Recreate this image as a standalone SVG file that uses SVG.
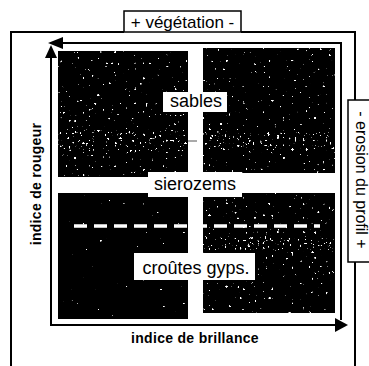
<svg xmlns="http://www.w3.org/2000/svg" width="369" height="366" viewBox="0 0 369 366">
<style>
.ln{stroke:#000;stroke-width:2;fill:none}
.blk{fill:#000}
.lbl{font-family:"Liberation Sans",Arial,sans-serif;font-size:17px;fill:#000}
.ax{font-family:"Liberation Sans",Arial,sans-serif;font-size:14px;font-weight:bold;letter-spacing:0.3px;fill:#000}
.wb{fill:#fff}
</style>
<defs>
<filter id="spk" x="0" y="0" width="1" height="1">
<feTurbulence type="fractalNoise" baseFrequency="0.35" numOctaves="1" seed="7"/>
<feColorMatrix type="matrix" values="0 0 0 0 1  0 0 0 0 1  0 0 0 0 1  25 0 0 0 -17.4"/>
</filter>
<filter id="spkd" x="0" y="0" width="1" height="1">
<feTurbulence type="fractalNoise" baseFrequency="0.4" numOctaves="1" seed="3"/>
<feColorMatrix type="matrix" values="0 0 0 0 1  0 0 0 0 1  0 0 0 0 1  25 0 0 0 -16.9"/>
</filter>
<filter id="spkl" x="0" y="0" width="1" height="1">
<feTurbulence type="fractalNoise" baseFrequency="0.35" numOctaves="1" seed="11"/>
<feColorMatrix type="matrix" values="0 0 0 0 1  0 0 0 0 1  0 0 0 0 1  25 0 0 0 -19"/>
</filter>
</defs>
<rect width="369" height="366" fill="#fff"/>

<g id="frame">
<path class="ln" d="M11 366 V32 H124 M241 32 H355 V100 M355 262 V366"/>
</g>

<g id="blocks">
<rect id="tl" class="blk" x="58" y="51" width="130" height="126"/>
<rect x="58" y="51" width="130" height="126" filter="url(#spk)"/>
<rect x="58" y="130" width="130" height="22" filter="url(#spkd)"/>
<rect id="tr" class="blk" x="203" y="48" width="132" height="125"/>
<rect x="203" y="48" width="132" height="125" filter="url(#spk)"/>
<rect x="203" y="132" width="132" height="18" filter="url(#spkd)"/>
<rect id="bl" class="blk" x="58" y="193" width="130" height="126"/>
<rect x="58" y="193" width="130" height="126" filter="url(#spkl)"/>
<rect id="br" class="blk" x="203" y="193" width="132" height="120"/>
<rect x="203" y="193" width="132" height="120" filter="url(#spk)"/>
<rect x="203" y="236" width="132" height="14" filter="url(#spkd)"/>
</g>

<g id="connectors">
<path class="ln" d="M62 43 H341 V320"/>
<polygon points="48,43 63,37 63,49" fill="#000"/>
<path class="ln" d="M51 56 V325 H336"/>
<polygon points="51,45 45,58 57,58" fill="#000"/>
<polygon points="348,325 335,318 335,332" fill="#000"/>
<line x1="74" y1="226" x2="320" y2="226" stroke="#fff" stroke-width="3.5" stroke-dasharray="13 7"/>
<line x1="188" y1="141" x2="197" y2="141" stroke="#555" stroke-width="1"/>
</g>

<g id="vegetation">
<rect x="124" y="11" width="117" height="21" fill="#fff" stroke="#000" stroke-width="1.5"/>
<text class="lbl" x="182.5" y="28" text-anchor="middle">+ végétation -</text>
</g>

<g id="erosion">
<rect x="348" y="100" width="30" height="162" fill="#fff" stroke="#000" stroke-width="1.5"/>
<text class="lbl" transform="translate(356,180) rotate(90)" text-anchor="middle" style="font-size:16px">- erosion du profil +</text>
</g>

<g id="sables">
<rect class="wb" x="163" y="92" width="64" height="20"/>
<text class="lbl" x="196" y="107" text-anchor="middle" style="font-size:18px">sables</text>
</g>

<g id="sierozems">
<rect class="wb" x="148" y="172" width="94" height="25"/>
<text class="lbl" x="195" y="190" text-anchor="middle" style="font-size:18px">sierozems</text>
</g>

<g id="croutes">
<rect class="wb" x="134" y="253" width="121" height="27"/>
<text class="lbl" x="196" y="274" text-anchor="middle" style="font-size:18px">croûtes gyps.</text>
</g>

<g id="axis-labels">
<text class="ax" x="195" y="343" text-anchor="middle">indice de brillance</text>
<text class="ax" transform="translate(41,184) rotate(-90)" text-anchor="middle">indice de rougeur</text>
</g>
</svg>
